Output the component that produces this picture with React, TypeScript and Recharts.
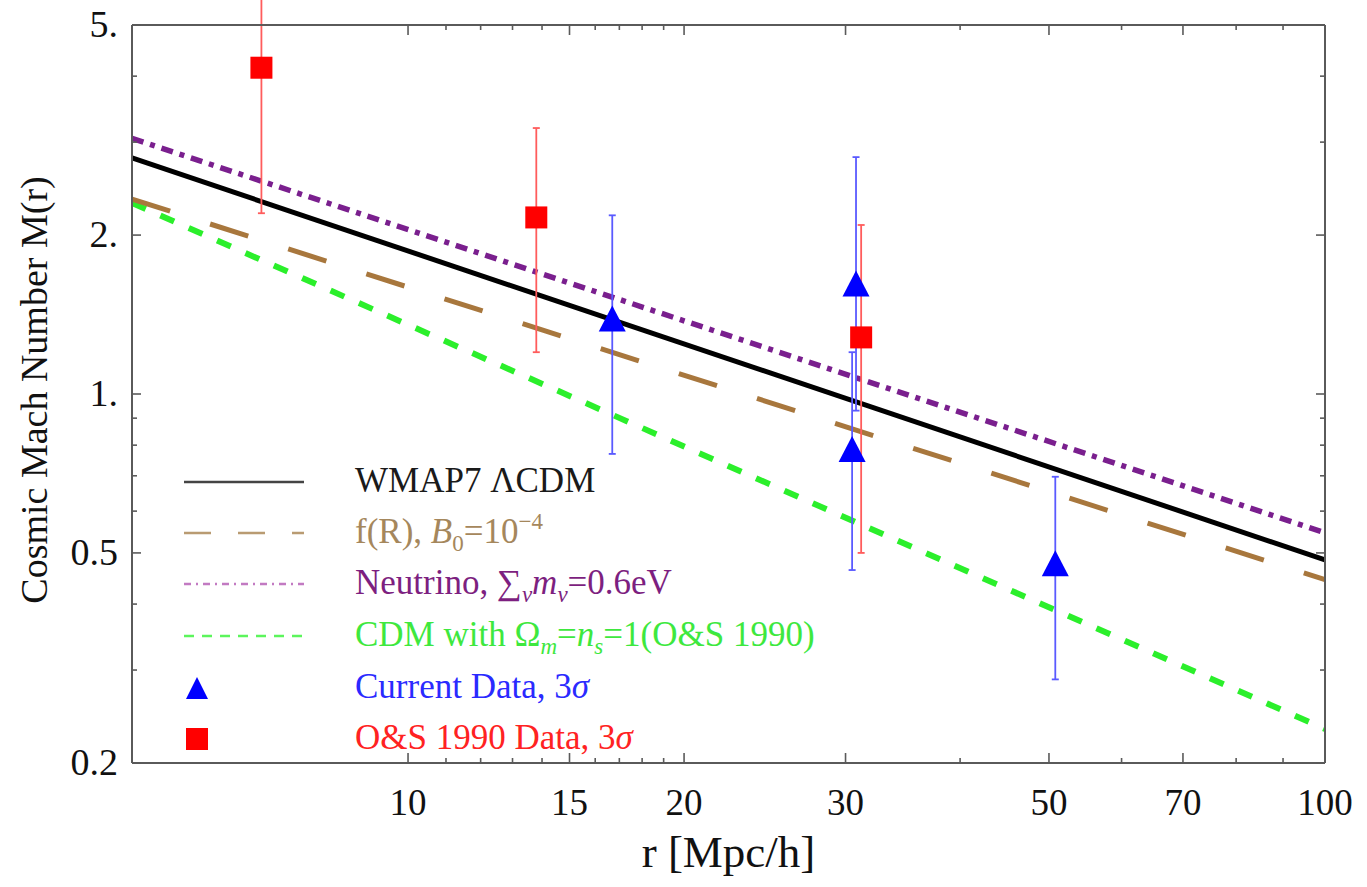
import React from "react";
import { ComposedChart, Line, Scatter, XAxis, YAxis, ErrorBar, Legend } from "recharts";

const FONT = "'Liberation Serif', 'Times New Roman', serif";
const FRAME = "#5a5a5a";

// model curves, read at the two plot edges (power laws, straight in log-log)
const LINE_R = [5, 100];
const WMAP7_M = [2.8, 0.485];
const FR_M = [2.34, 0.445];
const NEUTRINO_M = [3.05, 0.546];
const CDM_M = [2.3, 0.232];

// Current Data, 3 sigma
const CUR_R = [16.7, 30.8, 30.5, 50.8];
const CUR_M = [1.39, 1.62, 0.787, 0.478];
const CUR_LO = [0.77, 0.93, 0.464, 0.288];
const CUR_HI = [2.18, 2.81, 1.2, 0.697];

// O&S 1990 Data, 3 sigma (first upper bar runs off the top)
const OS_R = [6.92, 13.8, 31.2];
const OS_M = [4.15, 2.16, 1.28];
const OS_LO = [2.2, 1.2, 0.5];
const OS_HI = [6.5, 3.19, 2.09];

const X_TICKS = [10, 11, 12, 13, 14, 15, 16, 17, 18, 19, 20, 30, 40, 50, 60, 70, 80, 90, 100];
const X_MAJOR = [10, 15, 20, 30, 50, 70, 100];
const Y_TICKS = [0.2, 0.3, 0.4, 0.5, 0.6, 0.7, 0.8, 0.9, 1, 2, 3, 4, 5];
const Y_MAJOR = [0.2, 0.5, 1, 2, 5];
const Y_MAJOR_TEXT = ["0.2", "0.5", "1.", "2.", "5."];

const lineData = LINE_R.map((r, i) => ({
  r,
  wmap: WMAP7_M[i],
  fr: FR_M[i],
  nu: NEUTRINO_M[i],
  cdm: CDM_M[i],
}));

const toPoints = (rs: number[], ms: number[], lo: number[], hi: number[]) =>
  rs.map((r, i) => ({ r, m: ms[i], err: [ms[i] - lo[i], hi[i] - ms[i]] }));

const curData = toPoints(CUR_R, CUR_M, CUR_LO, CUR_HI);
const osData = toPoints(OS_R, OS_M, OS_LO, OS_HI);

const BottomTick = (p: any) => {
  const { x, y, payload } = p;
  const major = X_MAJOR.includes(payload.value);
  return (
    <g>
      <line x1={x} x2={x} y1={y} y2={y - (major ? 10 : 5)} stroke={FRAME} strokeWidth={1.6} />
      {major && (
        <text x={x} y={y + 52} textAnchor="middle" fontFamily={FONT} fontSize={37} fill="#111">
          {payload.value}
        </text>
      )}
    </g>
  );
};

const TopTick = (p: any) => {
  const major = X_MAJOR.includes(p.payload.value);
  return <line x1={p.x} x2={p.x} y1={p.y} y2={p.y + (major ? 10 : 5)} stroke={FRAME} strokeWidth={1.6} />;
};

const LeftTick = (p: any) => {
  const { x, y, payload } = p;
  const idx = Y_MAJOR.indexOf(payload.value);
  return (
    <g>
      <line x1={x} x2={x + (idx >= 0 ? 9 : 5)} y1={y} y2={y} stroke={FRAME} strokeWidth={1.6} />
      {idx >= 0 && (
        <text x={x - 14} y={y + 12} textAnchor="end" fontFamily={FONT} fontSize={38} fill="#111">
          {Y_MAJOR_TEXT[idx]}
        </text>
      )}
    </g>
  );
};

const RightTick = (p: any) => {
  const major = Y_MAJOR.includes(p.payload.value);
  return <line x1={p.x} x2={p.x - (major ? 9 : 5)} y1={p.y} y2={p.y} stroke={FRAME} strokeWidth={1.6} />;
};

const Triangle = (p: any) => (
  <path
    d={`M${p.cx},${p.cy - 13} L${p.cx + 13.5},${p.cy + 13} L${p.cx - 13.5},${p.cy + 13} Z`}
    fill="#0000ff"
  />
);

const Square = (p: any) => <rect x={p.cx - 11} y={p.cy - 11} width={22} height={22} fill="#ff0000" />;

function LegendBox() {
  const rows = [27, 78, 129, 181, 233, 284];
  const tx = 355;
  const fs = 35;
  const sub = 23;
  return (
    <svg width={900} height={310} style={{ overflow: "visible" }} fontFamily={FONT} fontSize={fs}>
      <line x1={184} x2={304} y1={rows[0]} y2={rows[0]} stroke="#444" strokeWidth={2.5} />
      <text x={tx} y={rows[0] + 10} fill="#1a1a1a">WMAP7 ΛCDM</text>

      <line x1={184} x2={304} y1={rows[1]} y2={rows[1]} stroke="#b99b72" strokeWidth={2.5} strokeDasharray="27 27" />
      <text x={tx} y={rows[1] + 10} fill="#a5875c">
        f(R), <tspan fontStyle="italic">B</tspan>
        <tspan fontSize={sub} dy={8}>0</tspan>
        <tspan dy={-8}>=10</tspan>
        <tspan fontSize={sub} dy={-14}>−4</tspan>
      </text>

      <line x1={184} x2={304} y1={rows[2]} y2={rows[2]} stroke="#c27ac2" strokeWidth={2.5} strokeDasharray="7 5 2 5" />
      <text x={tx} y={rows[2] + 10} fill="#7d1f80">
        Neutrino, ∑<tspan fontSize={sub} fontStyle="italic" dy={8}>ν</tspan>
        <tspan fontStyle="italic" dy={-8}>m</tspan>
        <tspan fontSize={sub} fontStyle="italic" dy={8}>ν</tspan>
        <tspan dy={-8}>=0.6eV</tspan>
      </text>

      <line x1={184} x2={304} y1={rows[3]} y2={rows[3]} stroke="#5cf55c" strokeWidth={2.5} strokeDasharray="10 8" />
      <text x={tx} y={rows[3] + 10} fill="#3ee83e">
        CDM with Ω<tspan fontSize={sub} fontStyle="italic" dy={8}>m</tspan>
        <tspan dy={-8}>=</tspan>
        <tspan fontStyle="italic">n</tspan>
        <tspan fontSize={sub} fontStyle="italic" dy={8}>s</tspan>
        <tspan dy={-8}>=1(O&amp;S 1990)</tspan>
      </text>

      <path d={`M197,${rows[4] - 11} L208,${rows[4] + 11} L186,${rows[4] + 11} Z`} fill="#0000ff" />
      <text x={tx} y={rows[4] + 10} fill="#2a2aff">
        Current Data, 3<tspan fontStyle="italic">σ</tspan>
      </text>

      <rect x={186} y={rows[5] - 11} width={22} height={22} fill="#ff0000" />
      <text x={tx} y={rows[5] + 10} fill="#ff2222">
        O&amp;S 1990 Data, 3<tspan fontStyle="italic">σ</tspan>
      </text>
    </svg>
  );
}

export default function App() {
  const axisLine = { stroke: FRAME, strokeWidth: 2 };
  return (
    <div style={{ width: 1367, height: 887, background: "#fff" }}>
      <style>{"body{margin:0}"}</style>
      <ComposedChart width={1367} height={887} data={lineData} margin={{ top: 24, right: 41, bottom: 0, left: 0 }}>
        <XAxis
          xAxisId="b"
          dataKey="r"
          type="number"
          scale="log"
          domain={[5, 100]}
          allowDataOverflow
          ticks={X_TICKS}
          interval={0}
          tickSize={0}
          tickMargin={0}
          height={124}
          axisLine={axisLine}
          tickLine={false}
          tick={<BottomTick />}
          label={{
            content: (p: any) => (
              <text
                x={p.viewBox.x + p.viewBox.width / 2}
                y={p.viewBox.y + p.viewBox.height - 20}
                textAnchor="middle"
                fontFamily={FONT}
                fontSize={45}
                fill="#111"
              >
                r [Mpc/h]
              </text>
            ),
          }}
        />
        <XAxis
          xAxisId="t"
          orientation="top"
          dataKey="r"
          type="number"
          scale="log"
          domain={[5, 100]}
          allowDataOverflow
          ticks={X_TICKS}
          interval={0}
          tickSize={0}
          tickMargin={0}
          height={1}
          axisLine={axisLine}
          tickLine={false}
          tick={<TopTick />}
        />
        <YAxis
          yAxisId="l"
          dataKey="m"
          type="number"
          scale="log"
          domain={[0.2, 5]}
          allowDataOverflow
          ticks={Y_TICKS}
          interval={0}
          tickSize={0}
          tickMargin={0}
          width={132}
          axisLine={axisLine}
          tickLine={false}
          tick={<LeftTick />}
          label={{
            content: (p: any) => {
              const cx = p.viewBox.x + 47;
              const cy = p.viewBox.y + p.viewBox.height / 2 - 4;
              return (
                <text
                  x={cx}
                  y={cy}
                  transform={`rotate(-90, ${cx}, ${cy})`}
                  textAnchor="middle"
                  fontFamily={FONT}
                  fontSize={38}
                  fill="#111"
                >
                  Cosmic Mach Number M(r)
                </text>
              );
            },
          }}
        />
        <YAxis
          yAxisId="r"
          orientation="right"
          type="number"
          scale="log"
          domain={[0.2, 5]}
          allowDataOverflow
          ticks={Y_TICKS}
          interval={0}
          tickSize={0}
          tickMargin={0}
          width={1}
          axisLine={axisLine}
          tickLine={false}
          tick={<RightTick />}
        />

        <Line xAxisId="b" yAxisId="l" dataKey="cdm" stroke="#2bef2b" strokeWidth={6} strokeDasharray="15 16" dot={false} isAnimationActive={false} />
        <Line xAxisId="b" yAxisId="l" dataKey="fr" stroke="#a8773d" strokeWidth={5} strokeDasharray="40 42" dot={false} isAnimationActive={false} />
        <Line xAxisId="b" yAxisId="l" dataKey="nu" stroke="#7a1f8e" strokeWidth={5.5} strokeDasharray="12 7 5 7" dot={false} isAnimationActive={false} />
        <Line xAxisId="b" yAxisId="l" dataKey="wmap" stroke="#000000" strokeWidth={5} dot={false} isAnimationActive={false} />

        <Scatter xAxisId="b" yAxisId="l" data={curData} shape={<Triangle />} isAnimationActive={false}>
          <ErrorBar dataKey="err" direction="y" width={3.5} stroke="#5a5aff" strokeWidth={1.8} />
        </Scatter>
        <Scatter xAxisId="b" yAxisId="l" data={osData} shape={<Square />} isAnimationActive={false}>
          <ErrorBar dataKey="err" direction="y" width={3.5} stroke="#ff5c5c" strokeWidth={1.8} />
        </Scatter>

        <Legend
          layout="vertical"
          align="center"
          verticalAlign="middle"
          content={<LegendBox />}
          wrapperStyle={{ left: 0, top: 455, width: 900, height: 310 }}
        />
      </ComposedChart>
    </div>
  );
}
